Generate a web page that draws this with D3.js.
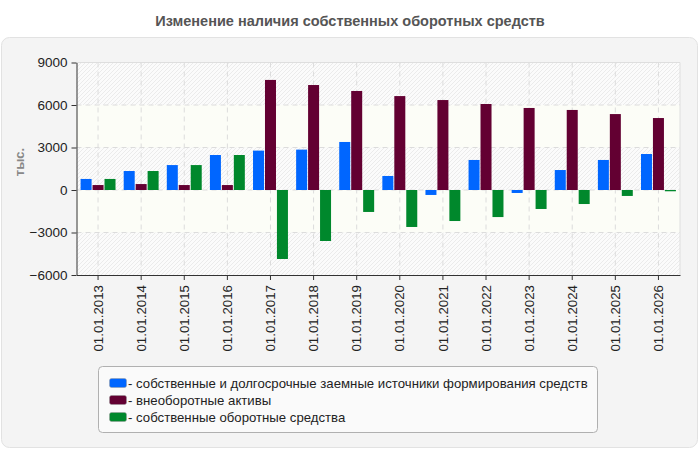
<!DOCTYPE html>
<html><head><meta charset="utf-8">
<script src="https://cdn.jsdelivr.net/npm/d3@7"></script>
<style>body{margin:0;background:#fff;font-family:"Liberation Sans",Arial,sans-serif}</style>
</head><body><svg id="c" width="700" height="450"></svg>
<script>
const categories = ["01.01.2013","01.01.2014","01.01.2015","01.01.2016","01.01.2017","01.01.2018","01.01.2019","01.01.2020","01.01.2021","01.01.2022","01.01.2023","01.01.2024","01.01.2025","01.01.2026"];
const ownAndLongTerm = [780,1340,1760,2470,2780,2850,3390,990,-350,2120,-210,1410,2120,2540];
const nonCurrentAssets = [350,420,350,350,7770,7410,6990,6630,6350,6070,5790,5650,5360,5080];
const ownWorkingCapital = [780,1340,1760,2470,-4870,-3600,-1550,-2610,-2190,-1910,-1340,-990,-420,-90];
const yTicks = [-6000,-3000,0,3000,6000,9000];
const seriesNames = ["собственные и долгосрочные заемные источники формирования средств","внеоборотные активы","собственные оборотные средства"];
const colors = ["#0066ff","#630032","#00882c"];
const title = "Изменение наличия собственных оборотных средств";
const yTitle = "тыс.";

const svg = d3.select("#c");
const defs = svg.append("defs");
const pat = defs.append("pattern").attr("id","hatch").attr("patternUnits","userSpaceOnUse").attr("width",4).attr("height",4);
pat.append("rect").attr("width",4).attr("height",4).attr("fill","#fbfbfb");
pat.append("path").attr("d","M-1,1 l2,-2 M0,4 l4,-4 M3,5 l2,-2").attr("stroke","#ebebeb").attr("stroke-width",1);

svg.append("text").attr("x",350).attr("y",26).attr("text-anchor","middle")
  .attr("font-size",14.5).attr("font-weight","bold").attr("fill","#555").text(title);
svg.append("rect").attr("x",1.5).attr("y",37.5).attr("width",696).attr("height",410).attr("rx",8)
  .attr("fill","#f4f4f4").attr("stroke","#e2e2e2");

const m = {l:76.5,r:680,t:62.5,b:275};
const x = d3.scaleBand().domain(categories).range([m.l,m.r]).paddingInner(0.19).paddingOuter(0.095);
const y = d3.scaleLinear().domain([-6000,9000]).range([m.b,m.t]);
const xs = d3.scaleBand().domain([0,1,2]).range([0,x.bandwidth()]).paddingInner(0.08);

// bands
for (let i=0;i<yTicks.length-1;i++){
  const a=yTicks[i], b=yTicks[i+1];
  svg.append("rect").attr("x",m.l).attr("width",m.r-m.l).attr("y",y(b)).attr("height",y(a)-y(b))
    .attr("fill", i%2===0 ? "url(#hatch)" : "#fcfdf7");
}
// grid
svg.append("g").selectAll("line").data(yTicks.slice(1,-1)).join("line")
  .attr("x1",m.l).attr("x2",m.r).attr("y1",d=>y(d)).attr("y2",d=>y(d))
  .attr("stroke","#dcdcdc").attr("stroke-dasharray","5,4");
svg.append("g").selectAll("line").data(categories).join("line")
  .attr("x1",d=>x(d)+x.bandwidth()/2).attr("x2",d=>x(d)+x.bandwidth()/2).attr("y1",m.t).attr("y2",m.b)
  .attr("stroke","#dcdcdc").attr("stroke-dasharray","5,4");
svg.append("path").attr("d",`M${m.l},${m.t}H${m.r}V${m.b}`).attr("fill","none").attr("stroke","#dedede");

// bars
const series=[ownAndLongTerm,nonCurrentAssets,ownWorkingCapital];
series.forEach((vals,si)=>{
  svg.append("g").selectAll("rect").data(vals).join("rect")
    .attr("x",(d,i)=>x(categories[i])+xs(si)).attr("width",xs.bandwidth())
    .attr("y",d=>y(Math.max(0,d))).attr("height",d=>Math.abs(y(d)-y(0)))
    .attr("fill",colors[si]);
});

// axes
const ya = svg.append("g").attr("transform",`translate(${m.l},0)`).call(d3.axisLeft(y).tickValues(yTicks).tickSize(5).tickSizeOuter(0).tickFormat(d3.format("d")));
ya.select(".domain").attr("stroke","#333");
ya.selectAll(".tick line").attr("stroke","#333");
ya.selectAll("text").attr("font-size",13.5).attr("fill","#222").attr("font-family","Liberation Sans, Arial, sans-serif").attr("dx",-1);
const xa = svg.append("g").attr("transform",`translate(0,${m.b})`).call(d3.axisBottom(x).tickSize(5).tickSizeOuter(0));
xa.select(".domain").attr("stroke","#333");
xa.selectAll(".tick line").attr("stroke","#333");
xa.selectAll("text").attr("font-size",13.3).attr("fill","#222").attr("font-family","Liberation Sans, Arial, sans-serif")
  .attr("transform","rotate(-90)").attr("text-anchor","end").attr("x",-10).attr("y",0).attr("dy","0.35em");

svg.append("text").attr("transform",`translate(19,162) rotate(-90)`).attr("text-anchor","middle").attr("dy","0.35em")
  .attr("font-size",13).attr("font-weight","bold").attr("fill","#888").text(yTitle);

// legend
const lg = svg.append("g");
lg.append("rect").attr("x",98.5).attr("y",366.5).attr("width",499).attr("height",66).attr("rx",4)
  .attr("fill","#fafafa").attr("stroke","#b0b0b0");
seriesNames.forEach((n,i)=>{
  const yy = 383 + i*17;
  lg.append("rect").attr("x",109.5).attr("y",yy-4.5).attr("width",17).attr("height",9).attr("rx",2).attr("fill",colors[i]).attr("stroke","#999").attr("stroke-width",0.5);
  lg.append("text").attr("x",128).attr("y",yy).attr("dy","0.35em").attr("font-size",13.2).attr("fill","#222").text("- "+n);
});
</script></body></html>
